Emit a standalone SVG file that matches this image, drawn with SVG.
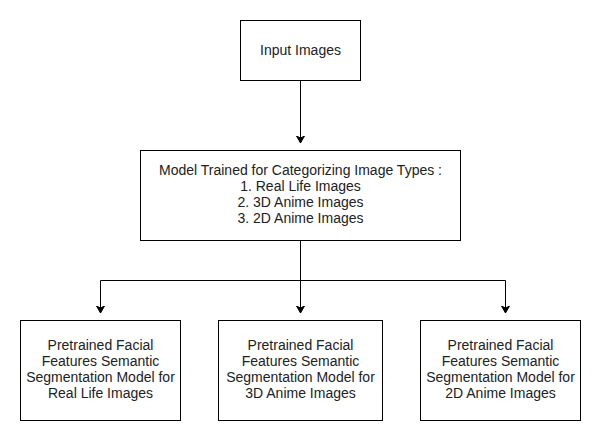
<svg xmlns="http://www.w3.org/2000/svg" width="601" height="441" viewBox="0 0 601 441">
<style>
.box{fill:#fff;stroke:#000;stroke-width:1}
.t{font-family:"Liberation Sans",Arial,sans-serif;font-size:14px;fill:#222;text-anchor:middle}
.c{fill:none;stroke:#000;stroke-width:1}
</style>
<defs>
<marker id="ah" markerWidth="10" markerHeight="10" refX="7" refY="5" orient="auto" markerUnits="userSpaceOnUse">
<path d="M0,1 L7,5 L0,9 L2,5 Z" fill="#000" stroke="#000" stroke-width="1"/>
</marker>
</defs>
<rect width="601" height="441" fill="#fff"/>
<g id="connectors">
<path class="c" d="M300.5,80 V143" marker-end="url(#ah)"/>
<path class="c" d="M300.5,240 V280.5 H100.5 V313" marker-end="url(#ah)"/>
<path class="c" d="M300.5,280.5 V313" marker-end="url(#ah)"/>
<path class="c" d="M300.5,280.5 H505.5 V313" marker-end="url(#ah)"/>
</g>
<g id="input">
<rect class="box" x="240.5" y="20.5" width="120" height="60"/>
<text class="t" x="300.5" y="55">Input Images</text>
</g>
<g id="classifier">
<rect class="box" x="140.5" y="150.5" width="320" height="90"/>
<text class="t" x="300.5" y="175">Model Trained for Categorizing Image Types :</text>
<text class="t" x="300.5" y="191">1. Real Life Images</text>
<text class="t" x="300.5" y="207">2. 3D Anime Images</text>
<text class="t" x="300.5" y="223">3. 2D Anime Images</text>
</g>
<g id="seg-real">
<rect class="box" x="20.5" y="320.5" width="160" height="100"/>
<text class="t" x="100.5" y="350">Pretrained Facial</text>
<text class="t" x="100.5" y="366">Features Semantic</text>
<text class="t" x="100.5" y="382">Segmentation Model for</text>
<text class="t" x="100.5" y="398">Real Life Images</text>
</g>
<g id="seg-3d">
<rect class="box" x="218.5" y="320.5" width="164" height="100"/>
<text class="t" x="300.5" y="350">Pretrained Facial</text>
<text class="t" x="300.5" y="366">Features Semantic</text>
<text class="t" x="300.5" y="382">Segmentation Model for</text>
<text class="t" x="300.5" y="398">3D Anime Images</text>
</g>
<g id="seg-2d">
<rect class="box" x="420.5" y="320.5" width="160" height="100"/>
<text class="t" x="500.5" y="350">Pretrained Facial</text>
<text class="t" x="500.5" y="366">Features Semantic</text>
<text class="t" x="500.5" y="382">Segmentation Model for</text>
<text class="t" x="500.5" y="398">2D Anime Images</text>
</g>
</svg>
